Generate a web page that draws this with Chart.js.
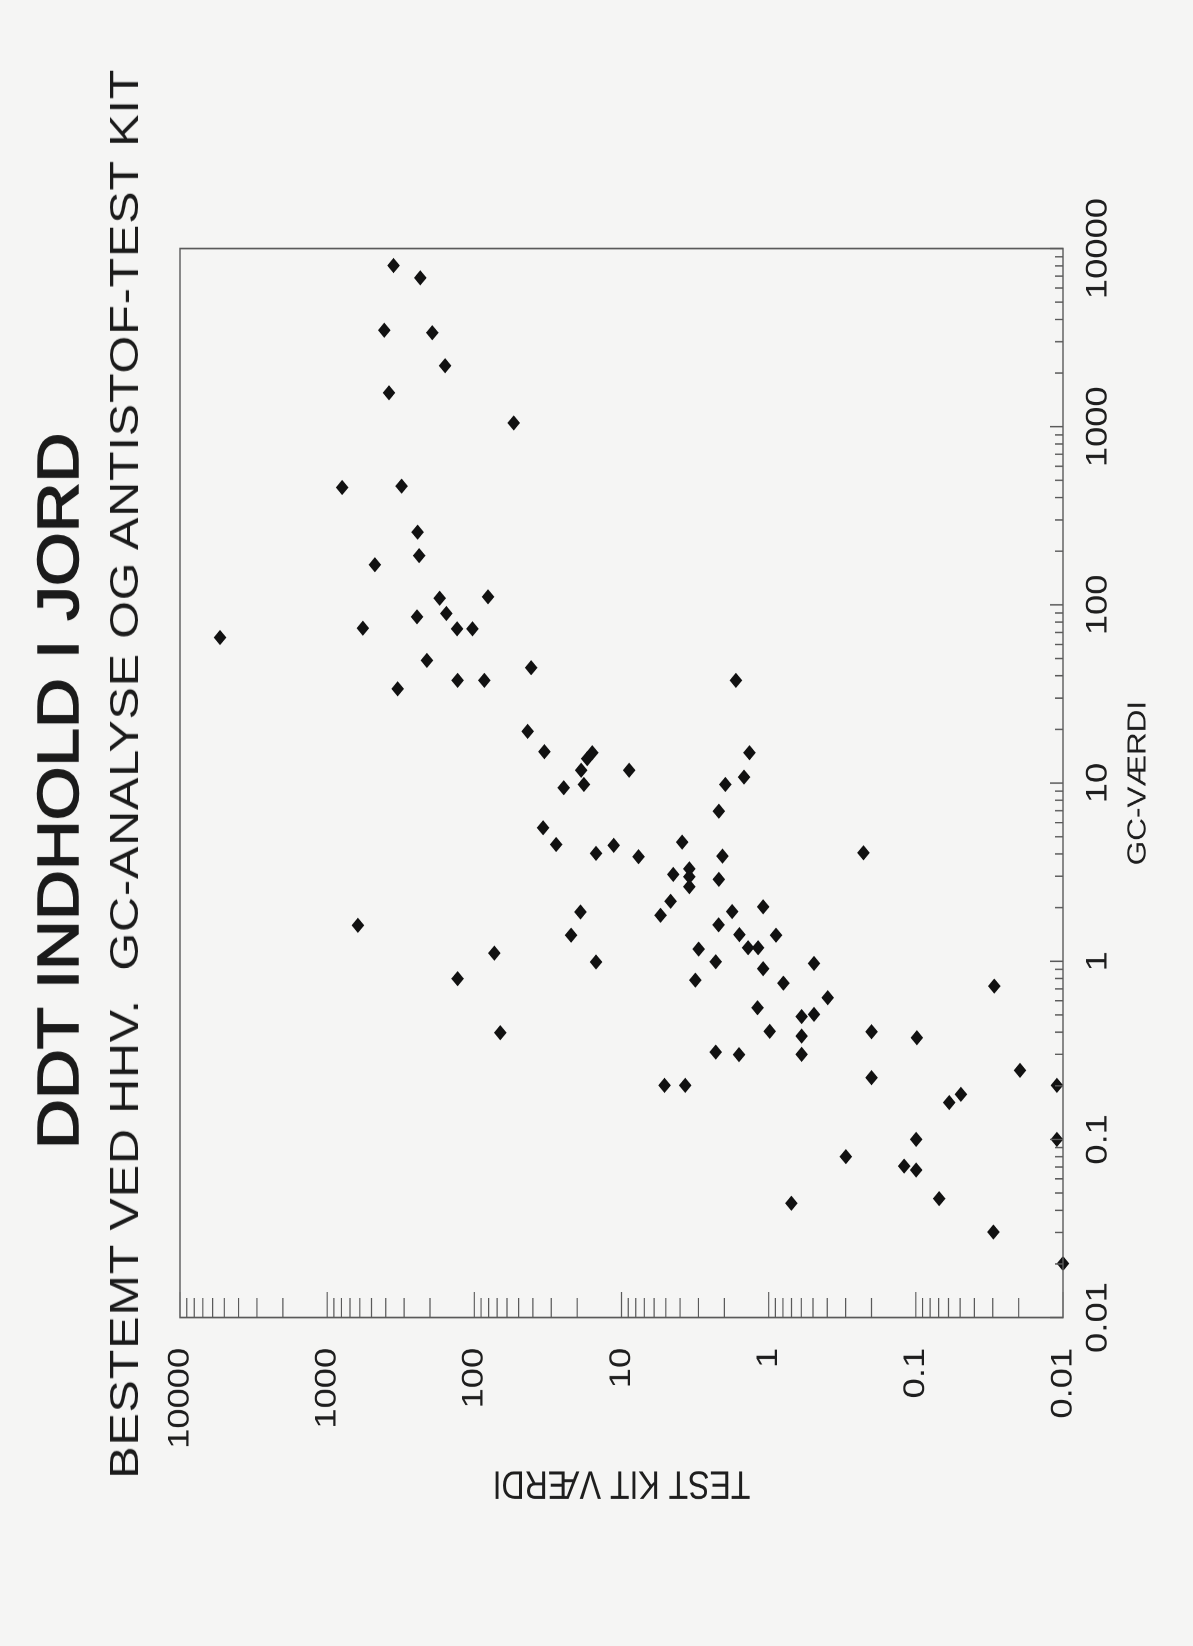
<!DOCTYPE html>
<html>
<head>
<meta charset="utf-8">
<script src="https://cdn.jsdelivr.net/npm/chart.js@4.4.1/dist/chart.umd.min.js"></script>
<style>
  html, body { margin: 0; padding: 0; background: #f5f5f4; }
  body { width: 1193px; height: 1646px; overflow: hidden; position: relative; }
  #page {
    position: absolute; left: 0; top: 0;
    width: 1358px; height: 1193px;
    transform-origin: 0 0;
    transform: translate(0px, 1646px) rotate(-90deg) scale(1.212, 1);
  }
  #chart { position: absolute; left: 0; top: 0; }
  .ttl { position: absolute; white-space: pre; color: #1b1b1b; font-family: 'Liberation Sans', Arial, sans-serif; }
  #t1 { left: 410px; top: 30px; font-size: 57px; line-height: 57px; font-weight: normal; -webkit-text-stroke: 1.6px #1b1b1b; }
  #t2 { left: 138px; top: 104px; font-size: 40px; line-height: 40px; letter-spacing: 0.7px; }
</style>
</head>
<body>
<div id="page">
  <canvas id="chart" width="1358" height="1193"></canvas>
  <div class="ttl" id="t1">DDT INDHOLD I JORD</div>
  <div class="ttl" id="t2">BESTEMT VED HHV.  GC-ANALYSE OG ANTISTOF-TEST KIT</div>
</div>
<script>
// ---- data ----
const gcValues = [
  8030, 6850, 3480, 3370, 2200, 1550, 1050, 456, 464, 256,
  189, 168, 109, 111, 85.7, 89.5, 74, 73.4, 73.4, 65.6,
  48.8, 44.4, 37.7, 37.7, 33.8, 19.5, 15.0, 14.8, 13.7, 11.8,
  9.41, 9.82, 5.61, 4.52, 4.03, 4.47, 1.59, 1.89, 1.40, 1.11,
  0.99, 0.798, 0.397, 37.7, 11.8, 14.8, 10.8, 9.82, 6.95, 3.86,
  4.66, 3.89, 4.06, 3.07, 3.30, 2.98, 2.62, 2.88, 2.17, 1.81,
  1.90, 2.02, 1.60, 1.41, 1.40, 1.17, 1.19, 1.19, 0.993, 0.908,
  0.972, 0.783, 0.753, 0.725, 0.624, 0.548, 0.489, 0.503, 0.404, 0.380,
  0.402, 0.372, 0.309, 0.299, 0.300, 0.222, 0.244, 0.201, 0.201, 0.201,
  0.161, 0.179, 0.100, 0.100, 0.080, 0.0708, 0.0673, 0.0465, 0.0438, 0.0302,
  0.0201
];
const testKitValues = [
  354, 233, 409, 193, 158, 380, 54, 791, 312, 243,
  237, 474, 172, 80.7, 245, 155, 572, 131, 103, 5345,
  210, 41.1, 130, 85.5, 332, 43.4, 33.4, 15.8, 17.1, 18.8,
  24.7, 18.0, 34.1, 27.8, 14.9, 11.3, 618, 19.0, 22.0, 73.1,
  14.9, 130, 66.6, 1.67, 8.87, 1.35, 1.47, 1.97, 2.18, 7.66,
  3.87, 2.06, 0.227, 4.45, 3.46, 3.46, 3.46, 2.18, 4.64, 5.43,
  1.77, 1.09, 2.19, 1.58, 0.891, 2.99, 1.38, 1.18, 2.29, 1.09,
  0.492, 3.15, 0.794, 0.0293, 0.397, 1.19, 0.597, 0.492, 0.984, 0.597,
  0.200, 0.0984, 2.29, 1.59, 0.597, 0.200, 0.0196, 5.10, 3.69, 0.011,
  0.0593, 0.0494, 0.0995, 0.011, 0.299, 0.120, 0.0995, 0.0694, 0.701, 0.0297,
  0.010
];
const tickValues = [0.01, 0.1, 1, 10, 100, 1000, 10000];
const tickLabels = ['0.01', '0.1', '1', '10', '100', '1000', '10000'];
const xTitle = 'GC-VÆRDI';
const yTitle = 'TEST KIT VÆRDI';

const points = gcValues.map((g, i) => ({ x: g, y: testKitValues[i] }));

const labelFont = "'Liberation Sans Narrow', 'Liberation Sans', Arial, sans-serif";
const titleFont = "'Liberation Sans', Arial, sans-serif";

const frameTicks = {
  id: 'frameTicks',
  afterDatasetsDraw(chart) {
    const { ctx, chartArea: a, scales: { x, y } } = chart;
    ctx.save();
    ctx.strokeStyle = '#5a5a5a';
    ctx.lineWidth = 1.4;
    ctx.strokeRect(a.left, a.top, a.right - a.left, a.bottom - a.top);
    ctx.beginPath();
    for (let e = -2; e <= 4; e++) {
      for (let k = 1; k <= 9; k++) {
        if (e === 4 && k > 1) break;
        const v = k * Math.pow(10, e);
        const py = y.getPixelForValue(v);
        ctx.moveTo(a.left, py);
        ctx.lineTo(a.left + (k === 1 ? 21 : 16), py);
        const px = x.getPixelForValue(v);
        ctx.moveTo(px, a.bottom);
        ctx.lineTo(px, a.bottom - (k === 1 ? 13 : 8));
      }
    }
    ctx.lineWidth = 1.2;
    ctx.stroke();
    ctx.restore();
  }
};

new Chart(document.getElementById('chart'), {
  type: 'scatter',
  data: {
    datasets: [{
      data: points,
      pointStyle: 'rectRot',
      pointRadius: 6.3,
      pointHoverRadius: 6.3,
      backgroundColor: '#111',
      borderColor: '#111',
      borderWidth: 0,
      clip: false
    }]
  },
  options: {
    responsive: false,
    animation: false,
    devicePixelRatio: 2,
    layout: { padding: { left: 100, right: 205, top: 180, bottom: 39 } },
    plugins: { legend: { display: false }, tooltip: { enabled: false } },
    scales: {
      x: {
        type: 'logarithmic',
        position: 'bottom',
        min: 0.01, max: 10000,
        grid: { display: false, drawTicks: false },
        border: { display: false },
        afterBuildTicks: s => { s.ticks = tickValues.map(v => ({ value: v })); },
        afterFit: s => { s.height = 91; },
        ticks: {
          autoSkip: false, maxRotation: 0, minRotation: 0,
          padding: 17, color: '#1e1e1e',
          font: { family: labelFont, size: 30 },
          callback: (v) => tickLabels[tickValues.indexOf(v)] ?? ''
        },
        title: {
          display: true, text: xTitle, color: '#1e1e1e',
          font: { family: titleFont, size: 26 },
          padding: { top: 0, bottom: 0 }
        }
      },
      y: {
        type: 'logarithmic',
        position: 'left',
        min: 0.01, max: 10000,
        grid: { display: false, drawTicks: false },
        border: { display: false },
        afterBuildTicks: s => { s.ticks = tickValues.map(v => ({ value: v })); },
        afterFit: s => { s.width = 171; },
        ticks: {
          autoSkip: false,
          padding: 25, color: '#1e1e1e',
          font: { family: labelFont, size: 30 },
          callback: (v) => tickLabels[tickValues.indexOf(v)] ?? ''
        },
        title: {
          display: true, text: yTitle, color: '#1e1e1e',
          font: { family: titleFont, size: 32 },
          padding: { top: 16, bottom: 0 }
        }
      }
    }
  },
  plugins: [frameTicks]
});
</script>
</body>
</html>
